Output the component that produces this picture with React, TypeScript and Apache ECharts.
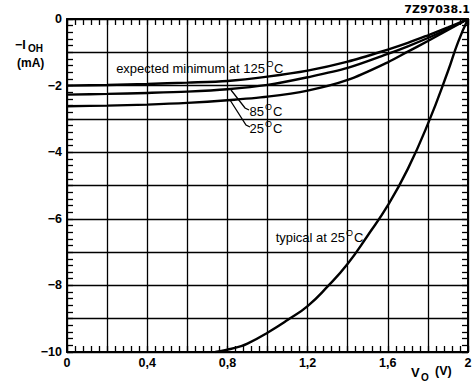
import React, { useEffect, useRef } from "react";
import * as echarts from "echarts";

// ---- data ----
const voExpected = [0, 0.2, 0.4, 0.6, 0.8, 1.0, 1.2, 1.4, 1.6, 1.7, 1.8, 1.9, 2.0];
const iohMin125 = [-2.0, -1.98, -1.95, -1.91, -1.86, -1.73, -1.55, -1.28, -0.92, -0.72, -0.49, -0.25, 0];
const iohMin85 = [-2.27, -2.25, -2.22, -2.18, -2.11, -1.98, -1.75, -1.47, -1.05, -0.82, -0.57, -0.3, 0];
const iohMin25 = [-2.62, -2.6, -2.57, -2.52, -2.44, -2.33, -2.15, -1.83, -1.3, -0.98, -0.66, -0.33, 0];

const voTypical = [0.74, 0.8, 0.86, 0.9, 1.0, 1.1, 1.2, 1.3, 1.4, 1.5, 1.6, 1.7, 1.8, 1.9, 1.95, 2.0];
const iohTypical25 = [-10, -9.93, -9.84, -9.75, -9.42, -9.04, -8.62, -8.03, -7.35, -6.5, -5.6, -4.5, -3.15, -1.57, -0.7, 0];

const xTickLabels = ["0", "0,4", "0,8", "1,2", "1,6", "2"]; // every 0.4 V
const yTickLabels = ["0", "\u22122", "\u22124", "\u22126", "\u22128", "\u221210"]; // every 2 mA

const FONT = "'Liberation Sans', Arial, Helvetica, sans-serif";

function zip(xs: number[], ys: number[]) {
  return xs.map((x, i) => [x, ys[i]]);
}

export default function App() {
  const ref = useRef<HTMLDivElement>(null);
  useEffect(() => {
    if (!ref.current) return;
    const chart = echarts.init(ref.current, undefined, { renderer: "svg" });
    const black = "#000";
    const baseAxis = {
      type: "value" as const,
      axisLine: { show: true, onZero: false, lineStyle: { color: black, width: 2 } },
      axisTick: { show: true, inside: true, length: 6, lineStyle: { color: black, width: 1.3 } },
      minorTick: { show: true, splitNumber: 5, length: 6, lineStyle: { color: black, width: 1.3 } },
    };
    const xFmt = (v: number) => {
      const k = Math.round(v * 10);
      return k % 4 === 0 ? xTickLabels[k / 4] : "";
    };
    const yFmt = (v: number) => {
      const k = Math.round(-v);
      return k % 2 === 0 ? yTickLabels[k / 2] : "";
    };
    const labelStyle = { color: black, fontSize: 12.5, fontFamily: FONT, fontWeight: "bold" as const };
    const lineSeries = (name: string, data: number[][], smooth: number) => ({
      name,
      type: "line" as const,
      data,
      xAxisIndex: 0,
      yAxisIndex: 0,
      showSymbol: false,
      symbol: "none",
      smooth,
      silent: true,
      lineStyle: { color: black, width: 2.4 },
    });
    const txt = (
      text: string,
      x: number,
      y: number,
      size: number,
      align: string = "left",
      weight: string = "normal",
      family: string = FONT
    ) => ({
      type: "text",
      x,
      y,
      silent: true,
      style: {
        text,
        fill: black,
        fontSize: size,
        fontFamily: family,
        fontWeight: weight,
        textAlign: align,
        textVerticalAlign: "middle",
      },
    });
    chart.setOption({
      animation: false,
      backgroundColor: "#fff",
      grid: { left: 67, right: 7, top: 19, bottom: 36, containLabel: false },
      xAxis: [
        {
          ...baseAxis,
          position: "bottom",
          min: 0,
          max: 2,
          interval: 0.2,
          axisLabel: { ...labelStyle, margin: 4, formatter: xFmt, showMinLabel: true, showMaxLabel: true },
          splitLine: { show: true, lineStyle: { color: black, width: 1.3 } },
        },
        {
          ...baseAxis,
          position: "top",
          min: 0,
          max: 2,
          interval: 0.2,
          axisLabel: { show: false },
          splitLine: { show: false },
        },
      ],
      yAxis: [
        {
          ...baseAxis,
          position: "left",
          min: -10,
          max: 0,
          interval: 1,
          axisLabel: { ...labelStyle, margin: 5, formatter: yFmt, showMinLabel: true, showMaxLabel: true },
          splitLine: { show: true, lineStyle: { color: black, width: 1.3 } },
        },
        {
          ...baseAxis,
          position: "right",
          min: -10,
          max: 0,
          interval: 1,
          axisLabel: { show: false },
          splitLine: { show: false },
        },
      ],
      series: [
        lineSeries("expected minimum at 125 °C", zip(voExpected, iohMin125), 0.3),
        lineSeries("expected minimum at 85 °C", zip(voExpected, iohMin85), 0.3),
        lineSeries("expected minimum at 25 °C", zip(voExpected, iohMin25), 0.3),
        lineSeries("typical at 25 °C", zip(voTypical, iohTypical25), 0.5),
      ],
      graphic: [
        txt("7Z97038.1", 470, 9, 11, "right", "bold", "'DejaVu Sans', sans-serif"),
        // y axis name
        txt("\u2212I", 15, 45, 12.5, "left", "bold"),
        txt("OH", 28, 48.5, 10, "left", "bold"),
        txt("(mA)", 17, 63, 12, "left", "bold"),
        // x axis name
        txt("V", 411, 372, 13, "left", "bold"),
        txt("O", 421, 377, 10, "left", "bold"),
        txt("(V)", 435, 371, 12.5, "left", "bold"),
        // annotations
        txt("expected minimum at 125", 265, 68, 13, "right"),
        txt("O", 270, 63.5, 9, "center"),
        txt("C", 274, 68, 13, "left"),
        txt("85", 264, 111, 13, "right"),
        txt("O", 268.5, 106.5, 9, "center"),
        txt("C", 273, 111, 13, "left"),
        txt("25", 264, 128, 13, "right"),
        txt("O", 268.5, 123.5, 9, "center"),
        txt("C", 273, 128, 13, "left"),
        txt("typical at 25", 345, 237, 13, "right"),
        txt("O", 349.5, 232.5, 9, "center"),
        txt("C", 354, 237, 13, "left"),
        {
          type: "polyline",
          silent: true,
          shape: { points: [[231, 90], [245, 108], [249, 110]] },
          style: { stroke: black, lineWidth: 1.3, fill: null },
        },
        {
          type: "polyline",
          silent: true,
          shape: { points: [[230, 100], [246, 125], [250, 127]] },
          style: { stroke: black, lineWidth: 1.3, fill: null },
        },
      ],
    });
    return () => chart.dispose();
  }, []);
  return <div ref={ref} style={{ position: "fixed", left: 0, top: 0, width: 475, height: 388, background: "#fff" }} />;
}
